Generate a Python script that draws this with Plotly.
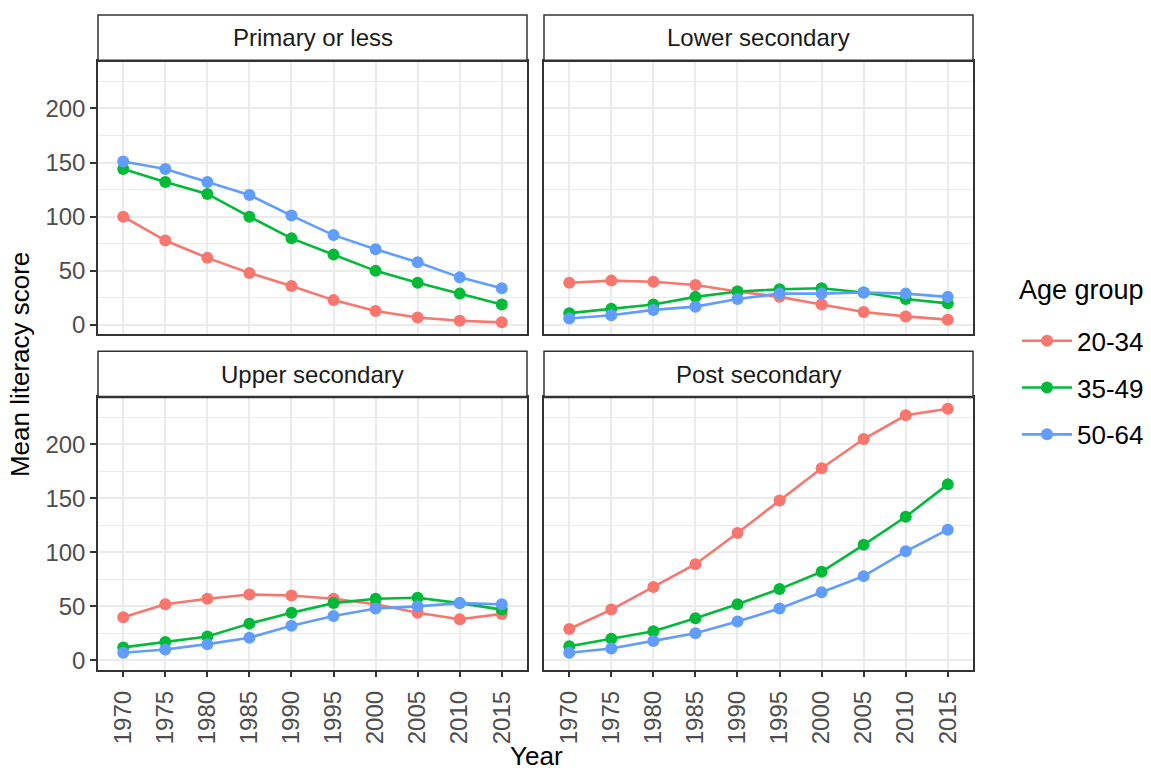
import plotly.graph_objects as go

# ---------------- data ----------------
years = [1970, 1975, 1980, 1985, 1990, 1995, 2000, 2005, 2010, 2015]
panels = ["Primary or less", "Lower secondary", "Upper secondary", "Post secondary"]
age_groups = ["20-34", "35-49", "50-64"]

primary_2034 = [100, 78, 62, 48, 36, 23, 13, 7, 4, 2.5]
primary_3549 = [144, 132, 121, 100, 80, 65, 50, 39, 29, 19]
primary_5064 = [151, 144, 132, 120, 101, 83, 70, 58, 44, 34]

lower_2034 = [39, 41, 40, 37, 31, 26, 19, 12, 8, 5]
lower_3549 = [11, 15, 19, 26, 31, 33, 34, 30, 24, 20]
lower_5064 = [6, 9, 14, 17, 24, 29, 29, 30, 29, 26]

upper_2034 = [40, 52, 57, 61, 60, 57, 52, 44, 38, 43]
upper_3549 = [12, 17, 22, 34, 44, 53, 57, 58, 53, 47]
upper_5064 = [7, 10, 15, 21, 32, 41, 48, 50, 53, 52]

post_2034 = [29, 47, 68, 89, 118, 148, 178, 205, 227, 233]
post_3549 = [13, 20, 27, 39, 52, 66, 82, 107, 133, 163]
post_5064 = [7, 11, 18, 25, 36, 48, 63, 78, 101, 121]

y_ticks = [0, 50, 100, 150, 200]

series = [
    [primary_2034, primary_3549, primary_5064],
    [lower_2034, lower_3549, lower_5064],
    [upper_2034, upper_3549, upper_5064],
    [post_2034, post_3549, post_5064],
]
colors = ["#F8766D", "#00BA38", "#619CFF"]

# ---------------- layout geometry (px) ----------------
W, H = 1151, 771
col_px = [(98, 527), (544, 973)]
row_px = [(61, 336), (399, 673)]      # plot areas (top, bottom) from top
strip_px = [(15, 61), (353, 399)]


def fx(p):
    return p / W


def fy(p):
    return 1 - p / H


FONT = "Liberation Sans, Arial, Helvetica, sans-serif"
BORDER = "#333333"
GRID = "#EBEBEB"
TICKFONT = dict(family=FONT, size=24, color="#4D4D4D")

fig = go.Figure()

for pi, pname in enumerate(panels):
    r, c = divmod(pi, 2)
    ax = "" if pi == 0 else str(pi + 1)
    for gi, g in enumerate(age_groups):
        fig.add_trace(go.Scatter(
            x=years, y=series[pi][gi], mode="lines+markers",
            name=g, legendgroup=g, showlegend=(pi == 0),
            line=dict(color=colors[gi], width=2.6),
            marker=dict(color=colors[gi], size=12),
            xaxis="x" + ax, yaxis="y" + ax,
        ))

    x0, x1 = col_px[c]
    top, bot = row_px[r]
    xa = dict(
        domain=[fx(x0), fx(x1)], anchor="y" + ax, range=[1967, 2018],
        tickmode="array", tickvals=years, ticktext=[str(v) for v in years],
        showgrid=True, gridcolor=GRID, gridwidth=1.6, zeroline=False,
        showline=True, mirror=True, linecolor=BORDER, linewidth=1.5,
        ticks="outside" if r == 1 else "", ticklen=6, tickwidth=1.5, tickcolor=BORDER,
        showticklabels=(r == 1), tickangle=-90, tickfont=TICKFONT,
        ticklabelstandoff=4,
    )
    ya = dict(
        domain=[fy(bot), fy(top)], anchor="x" + ax, range=[-8.5, 244],
        tickmode="array", tickvals=y_ticks,
        showgrid=True, gridcolor=GRID, gridwidth=1.6, zeroline=False,
        minor=dict(tickmode="array", tickvals=[25, 75, 125, 175, 225],
                   showgrid=True, gridcolor=GRID, gridwidth=0.8, ticks=""),
        showline=True, mirror=True, linecolor=BORDER, linewidth=1.5,
        ticks="outside" if c == 0 else "", ticklen=6, tickwidth=1.5, tickcolor=BORDER,
        showticklabels=(c == 0), tickfont=TICKFONT,
    )
    fig.update_layout(**{"xaxis" + ax: xa, "yaxis" + ax: ya})

    s0, s1 = strip_px[r]
    fig.add_shape(type="rect", xref="paper", yref="paper",
                  x0=fx(x0), x1=fx(x1), y0=fy(s1), y1=fy(s0),
                  fillcolor="white", line=dict(color=BORDER, width=1.5), layer="above")
    fig.add_shape(type="line", xref="paper", yref="paper",
                  x0=fx(x0), x1=fx(x1), y0=fy(s1), y1=fy(s1),
                  line=dict(color=BORDER, width=2.5), layer="above")
    fig.add_annotation(x=fx((x0 + x1) / 2), y=fy((s0 + s1) / 2), xref="paper", yref="paper",
                       text=pname, showarrow=False, xanchor="center", yanchor="middle",
                       font=dict(family=FONT, size=24, color="#1A1A1A"))

# axis titles
fig.add_annotation(x=fx(536), y=fy(760), xref="paper", yref="paper", text="Year",
                   showarrow=False, xanchor="center", yanchor="middle",
                   font=dict(family=FONT, size=26, color="black"))
fig.add_annotation(x=fx(20), y=fy(367), xref="paper", yref="paper", text="Mean literacy score",
                   showarrow=False, xanchor="center", yanchor="middle", textangle=-90,
                   font=dict(family=FONT, size=26, color="black"))
# legend title
fig.add_annotation(x=fx(1017), y=fy(292), xref="paper", yref="paper", text="Age group",
                   showarrow=False, xanchor="left", yanchor="middle",
                   font=dict(family=FONT, size=27, color="black"))

fig.update_layout(
    width=W, height=H, margin=dict(l=0, r=0, t=0, b=0),
    paper_bgcolor="white", plot_bgcolor="white",
    font=dict(family=FONT),
    legend=dict(
        x=fx(1017), y=fy(319), xanchor="left", yanchor="top",
        font=dict(family=FONT, size=26, color="black"),
        itemwidth=50, tracegroupgap=10, bgcolor="rgba(0,0,0,0)",
    ),
)

fig.write_html("out.html")
